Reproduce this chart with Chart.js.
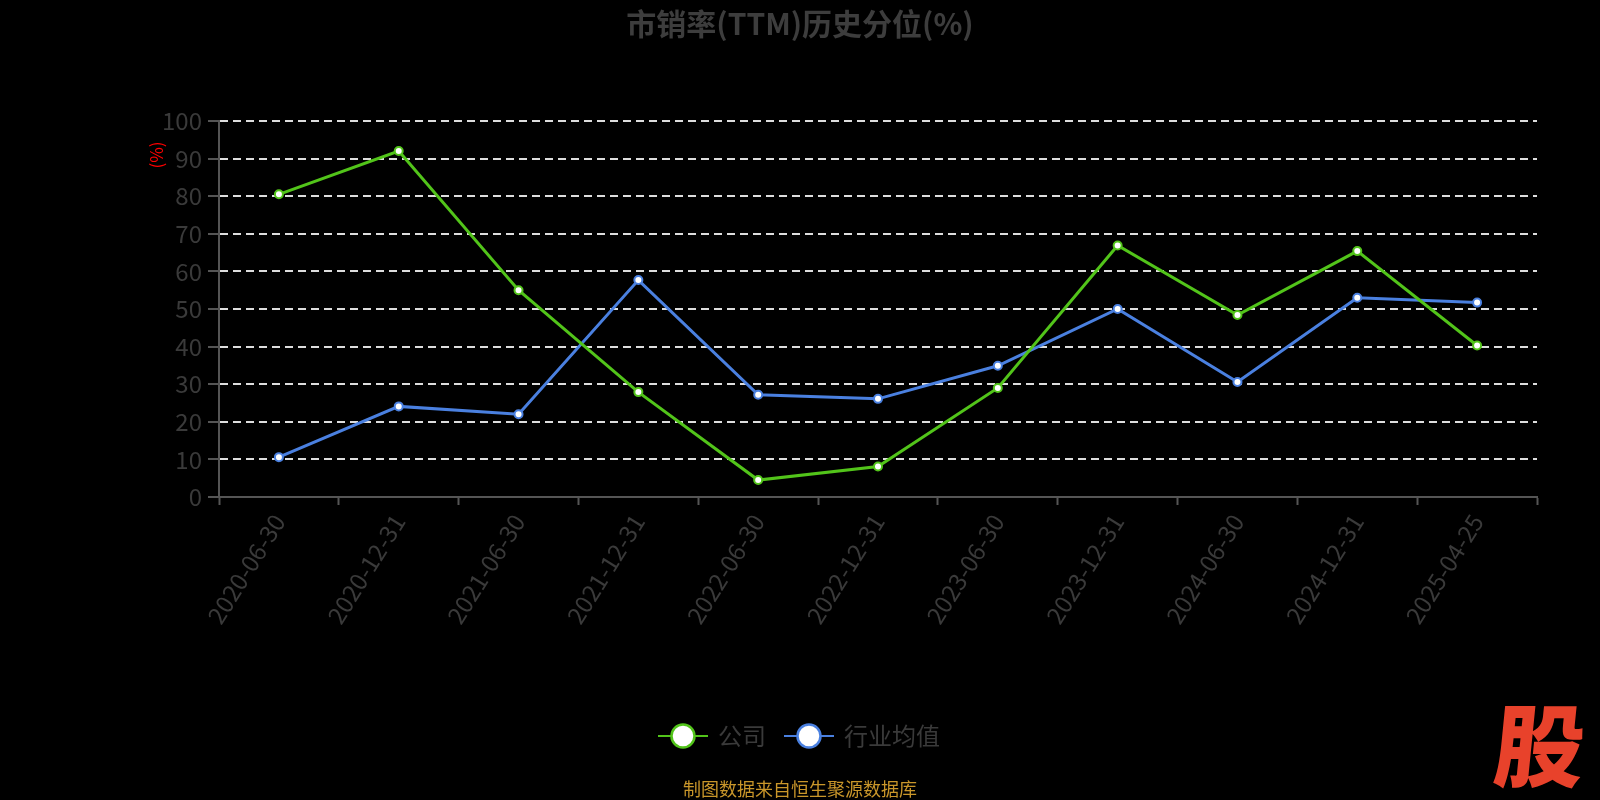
<!DOCTYPE html>
<html>
<head>
<meta charset="utf-8">
<script src="https://cdn.jsdelivr.net/npm/chart.js@4.4.1/dist/chart.umd.min.js"></script>
<style>
  html, body { margin: 0; background: #000; }
</style>
</head>
<body>
<canvas id="chart" width="1600" height="800"></canvas>
<script>
// Data
const dates = ['2020-06-30', '2020-12-31', '2021-06-30', '2021-12-31', '2022-06-30', '2022-12-31',
               '2023-06-30', '2023-12-31', '2024-06-30', '2024-12-31', '2025-04-25'];
const companyPct = [80.5, 92.0, 55.0, 27.9, 4.5, 8.1, 29.0, 66.9, 48.4, 65.4, 40.3];
const industryPct = [10.6, 24.1, 22.0, 57.7, 27.2, 26.1, 34.9, 50.0, 30.6, 53.0, 51.7];
const yMin = 0, yMax = 100, yStep = 10;

const GREEN = '#52c41a';
const BLUE = '#4a80e0';
const FONT = '"Noto Sans CJK SC", "Noto Sans", sans-serif';

// legend marker: line with a hollow circle, like the original
function legendMarker(color) {
    const c = document.createElement('canvas');
    c.width = 50; c.height = 28;
    const g = c.getContext('2d');
    g.strokeStyle = color;
    g.lineWidth = 2;
    g.beginPath(); g.moveTo(0, 14); g.lineTo(50, 14); g.stroke();
    g.beginPath(); g.arc(25, 14, 11.5, 0, Math.PI * 2);
    g.fillStyle = '#fff'; g.fill();
    g.lineWidth = 2.5; g.stroke();
    return c;
}
const markers = [legendMarker(GREEN), legendMarker(BLUE)];

// extra texts: axis unit, source line, logo
const extras = {
    id: 'extras',
    afterDraw(chart) {
        const ctx = chart.ctx;
        ctx.save();
        ctx.translate(157, 155);
        ctx.rotate(-Math.PI / 2);
        ctx.fillStyle = '#ff0000';
        ctx.font = '17px ' + FONT;
        ctx.textAlign = 'center';
        ctx.textBaseline = 'middle';
        ctx.fillText('(%)', 0, 0);
        ctx.restore();

        ctx.save();
        ctx.fillStyle = '#c9962a';
        ctx.font = '18px ' + FONT;
        ctx.textAlign = 'center';
        ctx.textBaseline = 'middle';
        ctx.fillText('制图数据来自恒生聚源数据库', 800, 789);
        ctx.restore();

        ctx.save();
        ctx.fillStyle = '#e8422b';
        ctx.font = '900 90px ' + FONT;
        ctx.textAlign = 'center';
        ctx.textBaseline = 'middle';
        ctx.translate(1540, 746);
        ctx.transform(1, 0, -0.1, 1, 0, 0);
        ctx.fillText('股', 0, 0);
        ctx.restore();
    }
};

const ctx = document.getElementById('chart').getContext('2d');
new Chart(ctx, {
    type: 'line',
    data: {
        labels: dates,
        datasets: [
            {
                label: '公司',
                data: companyPct,
                borderColor: GREEN,
                backgroundColor: '#fff',
                borderWidth: 3,
                pointRadius: 4,
                pointBorderWidth: 2,
                pointBackgroundColor: '#fff',
                pointBorderColor: GREEN,
                tension: 0
            },
            {
                label: '行业均值',
                data: industryPct,
                borderColor: BLUE,
                backgroundColor: '#fff',
                borderWidth: 3,
                pointRadius: 4,
                pointBorderWidth: 2,
                pointBackgroundColor: '#fff',
                pointBorderColor: BLUE,
                tension: 0
            }
        ]
    },
    options: {
        responsive: false,
        animation: false,
        layout: { padding: { left: 63, right: 63, top: 0, bottom: 42 } },
        plugins: {
            title: {
                display: true,
                text: '市销率(TTM)历史分位(%)',
                color: '#3d3d3d',
                font: { family: FONT, size: 30, weight: 'bold' },
                padding: { top: 6, bottom: 79 }
            },
            legend: {
                position: 'bottom',
                labels: {
                    color: '#3a3a3a',
                    font: { family: FONT, size: 24 },
                    usePointStyle: true,
                    pointStyleWidth: 46,
                    padding: 20,
                    generateLabels(chart) {
                        const items = Chart.defaults.plugins.legend.labels.generateLabels(chart);
                        items.forEach((it, i) => { it.pointStyle = markers[i]; });
                        return items;
                    }
                }
            },
            tooltip: { enabled: false }
        },
        scales: {
            x: {
                offset: true,
                grid: {
                    drawOnChartArea: false,
                    drawTicks: true,
                    tickLength: 8,
                    tickColor: '#555',
                    tickWidth: 2,
                    offset: true
                },
                border: { color: '#555', width: 2 },
                ticks: {
                    color: '#3a3a3a',
                    font: { family: FONT, size: 24 },
                    minRotation: 58,
                    maxRotation: 58,
                    autoSkip: false,
                    padding: 4
                },
                afterFit(scale) { scale.height = 207; }
            },
            y: {
                min: yMin,
                max: yMax,
                ticks: {
                    stepSize: yStep,
                    color: '#3a3a3a',
                    font: { family: FONT, size: 24 },
                    padding: 6
                },
                grid: {
                    color: '#dddddd',
                    lineWidth: 2,
                    tickLength: 11,
                    tickColor: '#555',
                    tickBorderDash: [],
                    tickWidth: 2
                },
                border: { color: '#555', width: 2, dash: [8, 5] },
                afterFit(scale) { scale.width = 156; }
            }
        }
    },
    plugins: [extras]
});
</script>
</body>
</html>
